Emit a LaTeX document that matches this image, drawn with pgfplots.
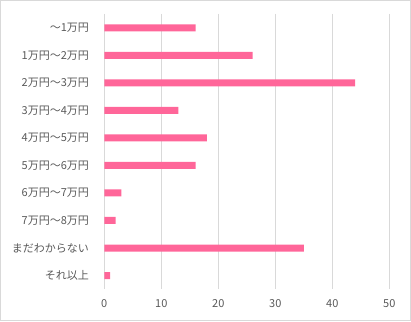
\documentclass[border=0pt]{standalone}
\usepackage{pgfplots}
\pgfplotsset{compat=1.18}
\usepackage{fontspec}
\setmainfont{Noto Sans CJK JP}
\definecolor{barpink}{RGB}{255,102,153}
\definecolor{gridgray}{RGB}{217,217,217}
\definecolor{txtgray}{RGB}{89,89,89}
\begin{document}
\begin{tikzpicture}[x=1pt,y=1pt]
\useasboundingbox (0,0) rectangle (411,321);
\draw[gridgray, line width=1pt] (0.5,0.5) rectangle (410.5,320.5);
\begin{axis}[at={(104.3pt,31.7pt)}, anchor=south west, scale only axis,
  width=285pt, height=275.3pt,
  xbar, xmin=0, xmax=50, ymin=-0.5, ymax=9.5, y dir=reverse,
  bar width=7pt,
  axis line style={draw=none}, tick style={draw=none},
  xmajorgrids, grid style={gridgray, line width=0.8pt},
  xtick={0,10,...,50},
  ytick={0,...,9},
  yticklabels={～1万円,1万円～2万円,2万円～3万円,3万円～4万円,4万円～5万円,5万円～6万円,6万円～7万円,7万円～8万円,まだわからない,それ以上},
  ticklabel style={font=\fontsize{11}{13}\selectfont, text=txtgray},
  /pgf/number format/assume math mode=true,
  xticklabel style={yshift=-7pt},
  yticklabel style={xshift=-7.6pt},
  clip=false]
\addplot[fill=barpink, draw=none] coordinates {
(16,0) (26,1) (44,2) (13,3) (18,4) (16,5) (3,6) (2,7) (35,8) (1,9)};
\end{axis}
\end{tikzpicture}
\end{document}
